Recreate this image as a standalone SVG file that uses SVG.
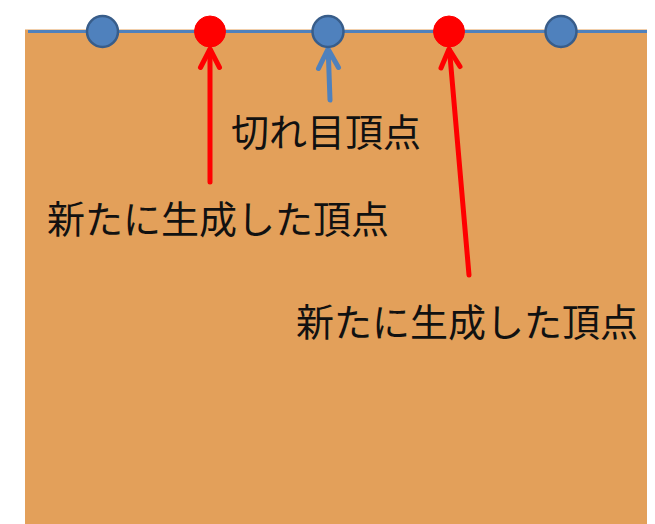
<svg xmlns="http://www.w3.org/2000/svg" width="655" height="524" viewBox="0 0 655 524">
<style>
.lbl{font-family:"Noto Sans CJK JP","Noto Sans CJK SC",sans-serif;font-size:38px;fill:#111;}
.bv{fill:#4F81BD;stroke:#385D8A;stroke-width:2.5;}
.rv{fill:#FF0000;stroke:#FF0000;stroke-width:1;}
.ar{fill:none;stroke-width:5;stroke-linecap:round;stroke-linejoin:round;}
</style>
<rect x="0" y="0" width="655" height="524" fill="#ffffff"/>
<rect id="sheet" x="25" y="29.5" width="622" height="495" fill="#E3A05A"/>
<line id="edge" x1="28" y1="31.5" x2="647" y2="31.5" stroke="#4F81BD" stroke-width="3"/>
<g id="connectors">
<g stroke="#FF0000" class="ar">
<line x1="210" y1="182" x2="210" y2="50"/>
<polyline points="200.5,67.5 210,49 219.5,67.5"/>
</g>
<g stroke="#4F81BD" class="ar">
<line x1="330" y1="100" x2="328.2" y2="50"/>
<polyline points="318.5,68.5 328,49 338.5,67.5"/>
</g>
<g stroke="#FF0000" class="ar">
<line x1="469" y1="275" x2="449.5" y2="50"/>
<polyline points="441,68 449,49 460,66.5"/>
</g>
</g>
<g id="v1"><circle class="bv" cx="102.5" cy="31.5" r="15.5"/></g>
<g id="v2"><circle class="rv" cx="210" cy="31.5" r="15.5"/></g>
<g id="v3"><circle class="bv" cx="328" cy="31.5" r="15.5"/></g>
<g id="v4"><circle class="rv" cx="449" cy="31.5" r="15.5"/></g>
<g id="v5"><circle class="bv" cx="561" cy="31.5" r="15.5"/></g>
<g id="label-cut"><text class="lbl" x="231" y="146">切れ目頂点</text></g>
<g id="label-new1"><text class="lbl" x="47" y="233">新たに生成した頂点</text></g>
<g id="label-new2"><text class="lbl" x="296" y="336">新たに生成した頂点</text></g>
</svg>
